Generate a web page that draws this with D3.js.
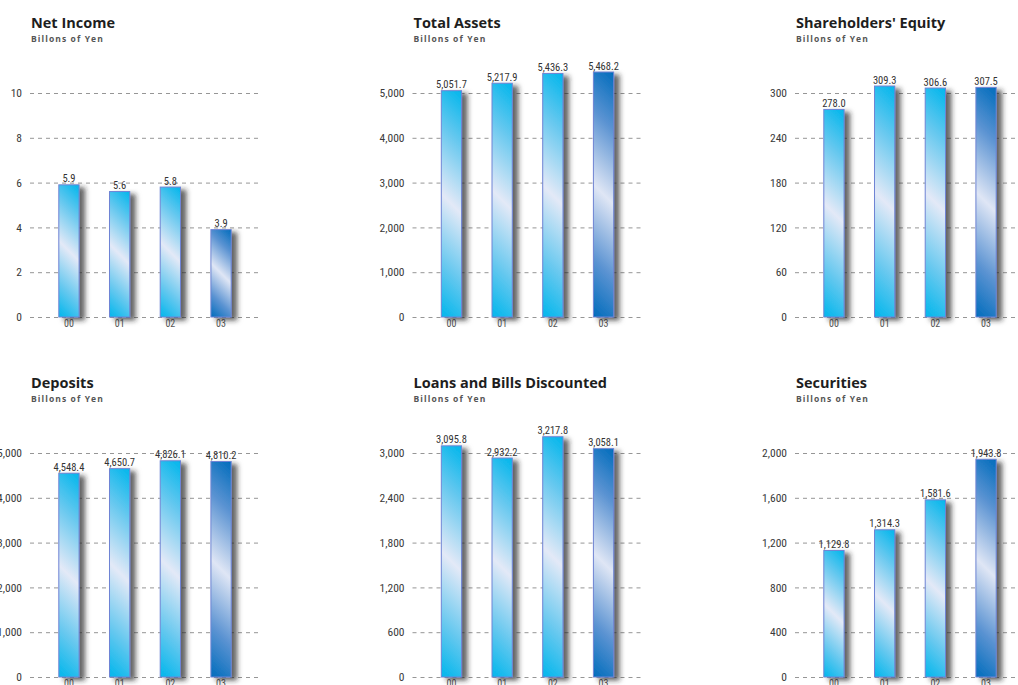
<!DOCTYPE html>
<html>
<head>
<meta charset="utf-8">
<script src="https://cdn.jsdelivr.net/npm/d3@7"></script>
<style>
  html, body { margin: 0; padding: 0; background: #fff; }
  svg { display: block; }
  .title { font-family: "Open Sans", "DejaVu Sans", sans-serif; font-weight: 700; font-size: 14.5px; fill: #1e1e1e; }
  .subtitle { font-family: "Open Sans", "DejaVu Sans", sans-serif; font-weight: 700; font-size: 8.5px; letter-spacing: 1.1px; fill: #555; }
  .num { font-family: "Roboto Condensed", "DejaVu Sans Condensed", sans-serif; }
</style>
</head>
<body>
<svg id="chart" width="1018" height="685"></svg>
<script>
// ---- data ----
const categories = ["00", "01", "02", "03"];
const netIncome = [5.9, 5.6, 5.8, 3.9];
const totalAssets = [5051.7, 5217.9, 5436.3, 5468.2];
const shareholdersEquity = [278.0, 309.3, 306.6, 307.5];
const deposits = [4548.4, 4650.7, 4826.1, 4810.2];
const loansAndBills = [3095.8, 2932.2, 3217.8, 3058.1];
const securities = [1129.8, 1314.3, 1581.6, 1943.8];

const netIncomeTicks = [0, 2, 4, 6, 8, 10];
const totalAssetsTicks = [0, 1000, 2000, 3000, 4000, 5000];
const equityTicks = [0, 60, 120, 180, 240, 300];
const depositsTicks = [0, 1000, 2000, 3000, 4000, 5000];
const loansTicks = [0, 600, 1200, 1800, 2400, 3000];
const securitiesTicks = [0, 400, 800, 1200, 1600, 2000];

const titles = ["Net Income", "Total Assets", "Shareholders' Equity", "Deposits", "Loans and Bills Discounted", "Securities"];
const subtitle = "Billons of Yen";

const panels = [
  { title: titles[0], values: netIncome, ticks: netIncomeTicks },
  { title: titles[1], values: totalAssets, ticks: totalAssetsTicks },
  { title: titles[2], values: shareholdersEquity, ticks: equityTicks },
  { title: titles[3], values: deposits, ticks: depositsTicks },
  { title: titles[4], values: loansAndBills, ticks: loansTicks },
  { title: titles[5], values: securities, ticks: securitiesTicks }
];

// ---- layout ----
const svg = d3.select("#chart");
const defs = svg.append("defs");
const f = defs.append("filter").attr("id", "shadow")
  .attr("x", "-50%").attr("y", "-20%").attr("width", "250%").attr("height", "150%");
f.append("feDropShadow").attr("dx", 5.5).attr("dy", 3).attr("stdDeviation", 2.8)
  .attr("flood-color", "#222").attr("flood-opacity", 0.7);

const colW = 382.5, rowH = 360;
const gridX0 = 30, gridX1 = 260;
const yBase = 317, yTop = 93;
const fmtVal = d3.format(",.1f");
const fmtTick = d3.format(",");

panels.forEach((p, i) => {
  const col = i % 3, row = Math.floor(i / 3);
  const g = svg.append("g").attr("transform", `translate(${col * colW},${row * rowH})`);

  g.append("text").attr("class", "title").attr("x", gridX0 + 1).attr("y", 27.5).text(p.title);
  g.append("text").attr("class", "subtitle").attr("x", gridX0 + 1).attr("y", 42).text(subtitle);

  const y = d3.scaleLinear().domain([0, p.ticks[p.ticks.length - 1]]).range([yBase, yTop]);
  const x = d3.scaleBand().domain(categories).range([43.6, 246.4]).paddingInner(0.6).paddingOuter(0.3);

  // grid + y labels
  const ya = g.append("g").attr("transform", `translate(${gridX0},0)`)
    .call(d3.axisLeft(y).tickValues(p.ticks).tickFormat(fmtTick).tickSize(-(gridX1 - gridX0)).tickPadding(8));
  ya.select(".domain").remove();
  ya.selectAll("line").attr("stroke", "#8a8a8a").attr("stroke-dasharray", "4,4").attr("stroke-width", 0.9);
  ya.selectAll("text").attr("class", "num").attr("font-size", 11.5).attr("fill", "#3a3a3a");

  // x labels
  const xa = g.append("g").attr("transform", `translate(0,${yBase})`)
    .call(d3.axisBottom(x).tickSize(0).tickPadding(3));
  xa.select(".domain").remove();
  xa.selectAll("text").attr("class", "num").attr("font-size", 10).attr("fill", "#555");

  // bar gradients
  p.values.forEach((v, j) => {
    const bx = x(categories[j]), bw = x.bandwidth();
    const top = y(v), h = yBase - top;
    const id = `grad-${i}-${j}`;
    const dark = j === categories.length - 1;
    const edge = dark ? "#006cbc" : "#00b6ec";
    const mid = dark ? "#dfe6f5" : "#e3e9f7";
    const q = dark ? "#5b93d2" : "#66c8ef";
    const gr = defs.append("linearGradient").attr("id", id).attr("gradientUnits", "userSpaceOnUse")
      .attr("x1", bx + bw).attr("y1", top)
      .attr("x2", bx + bw - (bw + h) / 2).attr("y2", top + (bw + h) / 2);
    gr.append("stop").attr("offset", 0).attr("stop-color", edge);
    gr.append("stop").attr("offset", 0.22).attr("stop-color", q);
    gr.append("stop").attr("offset", 0.5).attr("stop-color", mid);
    gr.append("stop").attr("offset", 0.78).attr("stop-color", q);
    gr.append("stop").attr("offset", 1).attr("stop-color", edge);
  });

  g.append("g").selectAll("rect").data(p.values).join("rect")
    .attr("x", (d, j) => x(categories[j]))
    .attr("y", d => y(d))
    .attr("width", x.bandwidth())
    .attr("height", d => yBase - y(d))
    .attr("fill", (d, j) => `url(#grad-${i}-${j})`)
    .attr("stroke", "#6f84d4")
    .attr("stroke-width", 1)
    .attr("filter", "url(#shadow)");

  g.append("g").selectAll("text").data(p.values).join("text")
    .attr("class", "num")
    .attr("x", (d, j) => x(categories[j]) + x.bandwidth() / 2)
    .attr("y", d => y(d) - 2.5)
    .attr("text-anchor", "middle")
    .attr("font-size", 10.5)
    .attr("fill", "#333")
    .text(d => fmtVal(d));
});
</script>
</body>
</html>
